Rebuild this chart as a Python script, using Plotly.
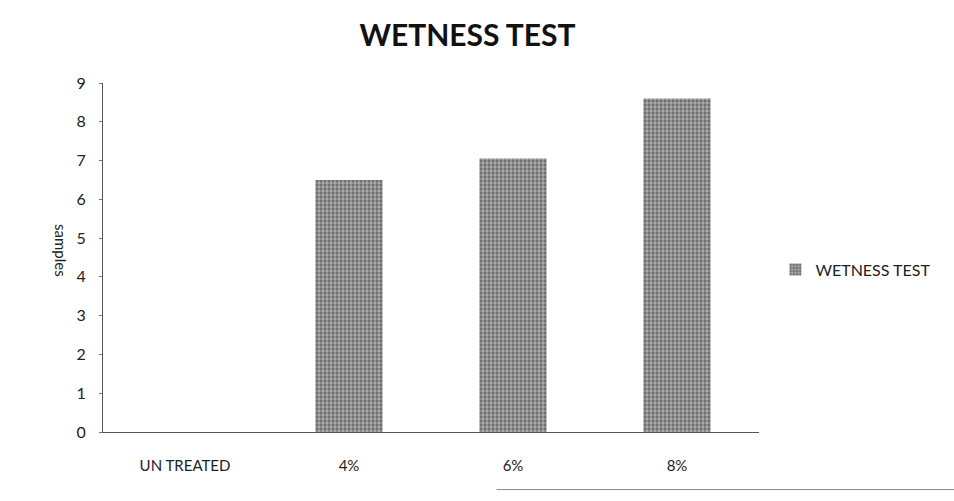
import plotly.graph_objects as go

categories = ["UN TREATED", "4%", "6%", "8%"]
values = [0, 6.5, 7.05, 8.6]
y_ticks = [0, 1, 2, 3, 4, 5, 6, 7, 8, 9]
series_name = "WETNESS TEST"
chart_title = "WETNESS TEST"
y_title = "samples"

FONT = "Lato, Open Sans, sans-serif"

fig = go.Figure()
fig.add_trace(go.Bar(
    x=categories, y=values, name=series_name, width=0.41,
    marker=dict(
        color="#9a9a9a",
        line=dict(width=0),
        pattern=dict(shape=".", fgcolor="#2e2e2e", bgcolor="#b0b0b0", size=4, solidity=0.55),
    ),
    showlegend=True,
))

fig.update_layout(
    width=954, height=501,
    margin=dict(l=103, r=195, t=83, b=69),
    paper_bgcolor="white", plot_bgcolor="white",
    title=dict(text="<b>" + chart_title + "</b>", x=0.49, xanchor="center", y=0.93, yanchor="middle",
               font=dict(family=FONT, size=30, color="#111")),
    font=dict(family=FONT, size=14, color="#222"),
    xaxis=dict(showline=True, linecolor="#555", linewidth=1, ticks="", showgrid=False,
               tickfont=dict(size=15, color="#222"), ticklabelstandoff=20),
    yaxis=dict(range=[0, 9], tickvals=y_ticks, showline=True, linecolor="#555", linewidth=1,
               ticks="outside", ticklen=3, tickcolor="#777", showgrid=False, zeroline=False,
               tickfont=dict(size=16, color="#222"), ticklabelstandoff=10),
    legend=dict(x=1.025, y=0.465, xanchor="left", yanchor="middle", font=dict(size=16, color="#222"),
                bgcolor="rgba(0,0,0,0)", itemwidth=30),
    bargap=0.59,
    annotations=[dict(text=y_title, textangle=90, xref="paper", yref="paper", x=-0.08, y=0.52,
                      showarrow=False, font=dict(family=FONT, size=15, color="#222"))],
    shapes=[dict(type="line", xref="paper", yref="paper", x0=0.6, x1=1.3, y0=-0.165, y1=-0.165,
                 line=dict(color="#888", width=1))],
)

fig.write_html("out.html")
